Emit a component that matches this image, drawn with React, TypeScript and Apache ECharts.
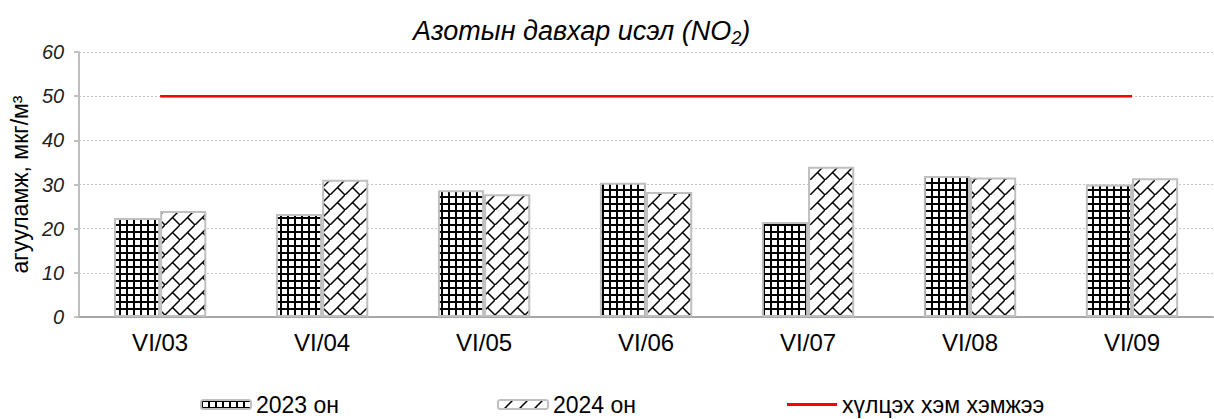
import React, { useEffect, useRef } from "react";
import * as echarts from "echarts";

const categories = ["VI/03", "VI/04", "VI/05", "VI/06", "VI/07", "VI/08", "VI/09"];
const values2023 = [22.4, 23.3, 28.7, 30.4, 21.5, 31.9, 30.0];
const values2024 = [24.0, 31.1, 27.8, 28.3, 34.0, 31.6, 31.4];
const limitValues = [50, 50, 50, 50, 50, 50, 50];
const seriesNames = ["2023 он", "2024 он", "хүлцэх хэм хэмжээ"];
const yTicks = [0, 10, 20, 30, 40, 50, 60];

function gridPattern(): HTMLCanvasElement {
  const c = document.createElement("canvas");
  c.width = 7;
  c.height = 7;
  const ctx = c.getContext("2d")!;
  ctx.fillStyle = "#ffffff";
  ctx.fillRect(0, 0, 7, 7);
  ctx.fillStyle = "#000000";
  ctx.fillRect(0, 0, 2, 7);
  ctx.fillRect(0, 0, 7, 2);
  return c;
}

function brickPattern(): HTMLCanvasElement {
  const s = 15;
  const c = document.createElement("canvas");
  c.width = s;
  c.height = s;
  const ctx = c.getContext("2d")!;
  ctx.fillStyle = "#ffffff";
  ctx.fillRect(0, 0, s, s);
  ctx.strokeStyle = "#000000";
  ctx.lineWidth = 1.5;
  ctx.beginPath();
  ctx.moveTo(-1, s + 1);
  ctx.lineTo(s + 1, -1);
  ctx.moveTo(s / 2, s / 2);
  ctx.lineTo(s + 1, s + 1);
  ctx.stroke();
  return c;
}

export default function App() {
  const ref = useRef<HTMLDivElement>(null);
  useEffect(() => {
    if (!ref.current) return;
    const chart = echarts.init(ref.current, undefined, { renderer: "svg" });
    const p1 = gridPattern();
    const p2 = brickPattern();
    const font = "Arial";
    const legendBase = {
      top: 388,
      itemWidth: 50,
      itemHeight: 9,
      itemGap: 6,
      textStyle: { fontFamily: font, fontSize: 23, color: "#000" },
    };
    chart.setOption({
      animation: false,
      title: {
        text: "{a|Азотын давхар исэл (NO}{s|2}{a|)}",
        left: 408,
        top: 11,
        textStyle: {
          fontFamily: font,
          fontSize: 27,
          fontWeight: "normal",
          fontStyle: "italic",
          rich: {
            a: { fontFamily: font, fontSize: 27, fontWeight: "normal", fontStyle: "italic", color: "#000", lineHeight: 30 },
            s: { fontFamily: font, fontSize: 18, fontWeight: "normal", fontStyle: "italic", color: "#000", lineHeight: 30, padding: [13, 0, 0, 0] },
          },
        },
      },
      legend: [
        { ...legendBase, left: 195, data: [seriesNames[0]] },
        { ...legendBase, left: 492, data: [seriesNames[1]] },
        { ...legendBase, left: 782, itemHeight: 3, data: [{ name: seriesNames[2], icon: "rect" }] },
      ],
      grid: { left: 77, right: 1, top: 52, bottom: 102 },
      xAxis: {
        type: "category",
        data: categories,
        axisTick: { show: false },
        axisLine: { lineStyle: { color: "#a6a6a6", width: 2 } },
        axisLabel: { fontFamily: font, fontSize: 24, color: "#000", margin: 13 },
      },
      yAxis: {
        type: "value",
        min: yTicks[0],
        max: yTicks[yTicks.length - 1],
        interval: 10,
        name: "агууламж, мкг/м³",
        nameLocation: "middle",
        nameGap: 42,
        nameTextStyle: { fontFamily: font, fontSize: 23, color: "#000" },
        axisLine: { show: true, lineStyle: { color: "#bfbfbf", width: 2 } },
        axisTick: { show: true, length: 5, lineStyle: { color: "#bfbfbf", width: 2 } },
        axisLabel: { fontFamily: font, fontSize: 20, fontStyle: "italic", color: "#222", margin: 15 },
        splitLine: { lineStyle: { color: "#c4c4c4", type: [2, 2], width: 1 } },
      },
      series: [
        {
          name: seriesNames[0],
          type: "bar",
          data: values2023,
          barWidth: "28.5%",
          barGap: "0%",
          itemStyle: {
            color: { image: p1, repeat: "repeat" },
            borderColor: "#bfbfbf",
            borderWidth: 2,
          },
        },
        {
          name: seriesNames[1],
          type: "bar",
          data: values2024,
          barWidth: "28.5%",
          barGap: "0%",
          itemStyle: {
            color: { image: p2, repeat: "repeat" },
            borderColor: "#bfbfbf",
            borderWidth: 2,
          },
        },
        {
          name: seriesNames[2],
          type: "line",
          data: limitValues,
          symbol: "none",
          lineStyle: { color: "#ff0000", width: 2.5 },
          itemStyle: { color: "#ff0000" },
        },
      ],
    });
    return () => chart.dispose();
  }, []);
  return <div ref={ref} style={{ width: 1214, height: 419, position: "absolute", left: 0, top: 0 }} />;
}
